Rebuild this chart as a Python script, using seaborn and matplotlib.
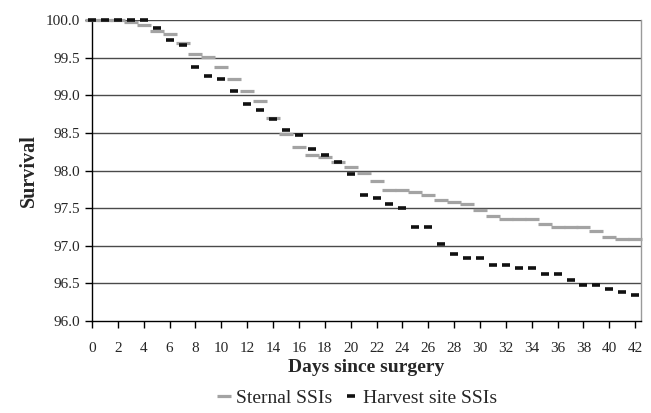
import matplotlib
matplotlib.use('Agg')
import matplotlib.pyplot as plt
import numpy as np
import pandas as pd
import seaborn as sns

days = list(range(43))
sternal = [100.0, 100.0, 100.0, 99.98, 99.93, 99.86, 99.81, 99.70, 99.55, 99.51,
           99.38, 99.22, 99.05, 98.92, 98.70, 98.48, 98.31, 98.21, 98.18, 98.11,
           98.05, 97.97, 97.86, 97.74, 97.74, 97.71, 97.68, 97.61, 97.58, 97.56,
           97.48, 97.39, 97.36, 97.36, 97.36, 97.29, 97.25, 97.25, 97.25, 97.19,
           97.12, 97.09, 97.09]
harvest = [100.0, 100.0, 100.0, 100.0, 100.0, 99.90, 99.73, 99.67, 99.38, 99.25,
           99.22, 99.06, 98.88, 98.81, 98.68, 98.54, 98.47, 98.29, 98.20, 98.11,
           97.95, 97.68, 97.64, 97.56, 97.50, 97.25, 97.25, 97.02, 96.89, 96.84,
           96.84, 96.75, 96.75, 96.71, 96.71, 96.63, 96.63, 96.54, 96.48, 96.48,
           96.43, 96.39, 96.34]
yticks = np.arange(96.0, 100.01, 0.5)
xticks = list(range(0, 43, 2))

sns.set_style('white')
plt.rcParams['font.family'] = ['Liberation Serif', 'DejaVu Serif']

df = pd.DataFrame({'day': days, 'Sternal SSIs': sternal, 'Harvest site SSIs': harvest})

fig = plt.figure(figsize=(6.51, 4.13), dpi=100)
ax = fig.add_axes([92/651, 1-321/413, (641-92)/651, (321-20)/413])

for yv in yticks[1:]:
    ax.axhline(yv, color='#4a4a4a', lw=1.0, zorder=0)

grey = '#a3a3a3'
black = '#111111'
sns.lineplot(data=df, x='day', y='Sternal SSIs', ax=ax, color=grey,
             linestyle='none', marker='_', markersize=10, markeredgewidth=2.3,
             markeredgecolor=grey, markerfacecolor=grey,
             label='Sternal SSIs', clip_on=False, zorder=3)
sns.lineplot(data=df, x='day', y='Harvest site SSIs', ax=ax, color=black,
             linestyle='none', marker='_', markersize=6, markeredgewidth=2.6,
             markeredgecolor=black, markerfacecolor=black,
             label='Harvest site SSIs', clip_on=False, zorder=4)

ax.set_xlim(0, 42.45)
ax.set_ylim(96.0, 100.0)
ax.set_yticks(yticks)
ax.set_yticklabels(['%.1f' % v for v in yticks])
ax.set_xticks(xticks)
ax.set_xticklabels([str(v) for v in xticks])
ax.tick_params(axis='both', direction='out', length=5, width=1, color='black',
               labelsize=11, left=True, bottom=True)
ax.tick_params(axis='x', pad=10)

for s in ['left', 'bottom']:
    ax.spines[s].set_color('black')
    ax.spines[s].set_linewidth(1.0)
ax.spines['top'].set_visible(False)
ax.spines['right'].set_color('#9a9a9a')
ax.spines['right'].set_linewidth(1.0)

ax.set_xlabel('Days since surgery', fontsize=14, fontweight='bold', labelpad=3)
ax.set_ylabel('Survival', fontsize=14.5, fontweight='bold', labelpad=5)

ax.get_legend().remove()
handles, labels = ax.get_legend_handles_labels()
fig.legend(handles, labels, loc='center', ncol=2, frameon=False, fontsize=14,
           bbox_to_anchor=(357/651, 1-398/413), handlelength=0.72,
           handletextpad=0.25, columnspacing=0.6)

fig.savefig('out.png', dpi=100)
